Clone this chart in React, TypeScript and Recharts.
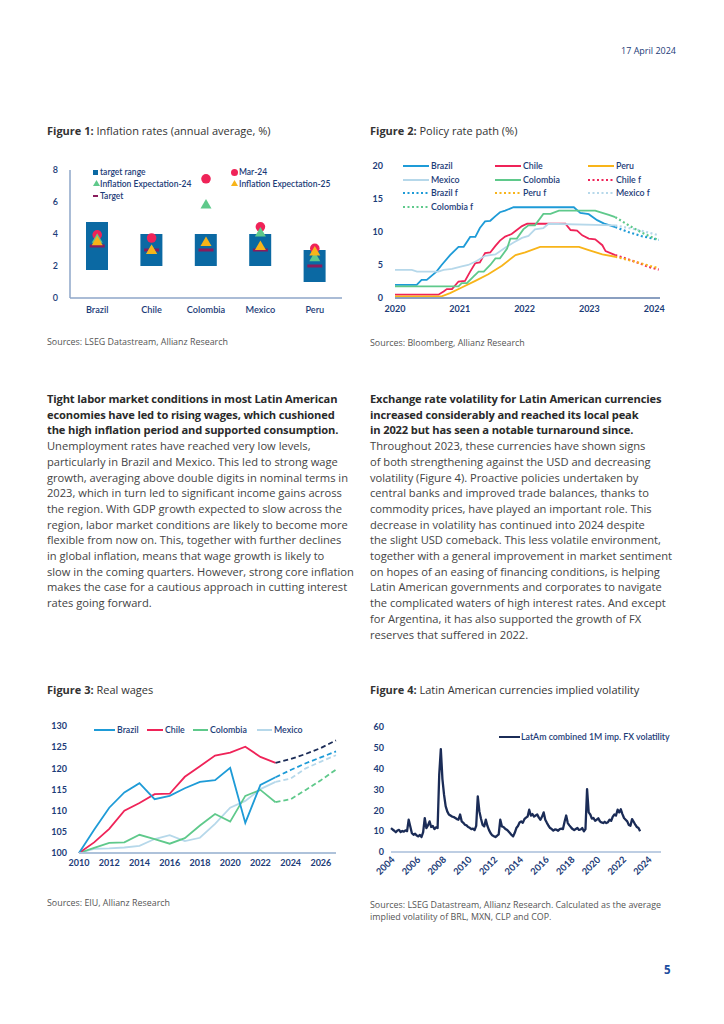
import React from "react"
import { ComposedChart, LineChart, Line, Bar, Scatter, XAxis, YAxis, Legend } from "recharts"

// ---------- shared look ----------
const FONT = "Lato, 'Open Sans', sans-serif"
const TEXT_FONT = "'Open Sans', Lato, sans-serif"
const NAVY = "#1c3c78"
const AXIS = "#8ea6c8"
const BLUE = "#1e9bd7"
const RED = "#ef2358"
const AMBER = "#f8b419"
const LIGHT = "#b6d8ea"
const GREEN = "#5fc98b"
const BAR = "#0b69a3"
const TARGET = "#8a1c5c"
const DARK = "#1b2c57"

// ---------- Figure 1: inflation ----------
const inflCountries = ["Brazil", "Chile", "Colombia", "Mexico", "Peru"]
const targetLow = [1.75, 2, 2, 2, 1]
const targetHigh = [4.75, 4, 4, 4, 3]
const targetMid = [3.25, 3, 3, 3, 2]
const mar24 = [3.95, 3.75, 7.45, 4.45, 3.1]
const expect24 = [3.7, 3.0, 5.85, 4.1, 2.55]
const expect25 = [3.55, 3.0, 3.5, 3.25, 2.9]
const inflTicks = [0, 2, 4, 6, 8]

// ---------- Figure 2: policy rates [t, rate] ----------
const brazilRate: [number, number][] = [
  [2020, 2], [2020.335, 2], [2020.41, 2.75], [2020.49, 2.75], [2020.64, 4], [2020.72, 5],
  [2020.85, 6.5], [2020.98, 7.75], [2021.06, 7.75], [2021.16, 9.25], [2021.24, 9.25],
  [2021.31, 10.6], [2021.39, 11.6], [2021.47, 11.7], [2021.55, 12.4], [2021.62, 13],
  [2021.7, 13.25], [2021.83, 13.75], [2022.76, 13.75], [2022.86, 12.9], [2022.99, 12.7],
  [2023.12, 11.8], [2023.22, 11.3], [2023.4, 10.75],
]
const brazilRateF: [number, number][] = [[2023.4, 10.75], [2023.6, 10.0], [2023.8, 9.4], [2024.07, 8.8]]
const chileRate: [number, number][] = [
  [2020, 0.5], [2020.67, 0.5], [2020.75, 1], [2020.8, 1.35], [2020.88, 1.35], [2020.98, 2.5],
  [2021.08, 2.6], [2021.16, 4], [2021.24, 5.3], [2021.31, 5.4], [2021.39, 6.8], [2021.47, 6.9],
  [2021.55, 7.9], [2021.62, 8.7], [2021.7, 9.3], [2021.8, 9.7], [2021.88, 10.3], [2021.96, 10.9],
  [2022.04, 11.25], [2022.63, 11.25], [2022.71, 10.3], [2022.81, 10.2], [2022.89, 9.5],
  [2022.99, 9.0], [2023.09, 8.9], [2023.2, 8.0], [2023.25, 7.1], [2023.4, 6.5],
]
const chileRateF: [number, number][] = [[2023.4, 6.5], [2023.71, 5.5], [2023.92, 4.7], [2024.07, 4.3]]
const peruRate: [number, number][] = [
  [2020, 0.25], [2020.72, 0.25], [2020.85, 0.75], [2021.03, 1.6], [2021.24, 2.6], [2021.44, 3.6],
  [2021.65, 4.9], [2021.86, 6.5], [2022.01, 6.9], [2022.24, 7.75], [2022.84, 7.75],
  [2022.99, 7.25], [2023.2, 6.6], [2023.4, 6.25],
]
const peruRateF: [number, number][] = [[2023.4, 6.25], [2023.71, 5.5], [2023.92, 4.9], [2024.07, 4.5]]
const mexicoRate: [number, number][] = [
  [2020, 4.25], [2020.26, 4.25], [2020.34, 4], [2020.67, 4], [2020.75, 4.25], [2020.88, 4.4],
  [2021.03, 4.8], [2021.13, 5], [2021.26, 5.6], [2021.39, 6.4], [2021.55, 6.6], [2021.7, 7.6],
  [2021.83, 8.4], [2021.96, 9.1], [2022.06, 9.4], [2022.16, 10.4], [2022.29, 10.6],
  [2022.37, 11.25], [2023.4, 11.0],
]
const mexicoRateF: [number, number][] = [[2023.4, 11.0], [2023.71, 10.4], [2023.92, 9.9], [2024.07, 9.5]]
const colombiaRate: [number, number][] = [
  [2020, 1.75], [2020.98, 1.75], [2021.03, 2.25], [2021.11, 2.25], [2021.21, 3.25], [2021.29, 4],
  [2021.37, 4], [2021.47, 5], [2021.55, 6], [2021.62, 6], [2021.73, 7.5], [2021.78, 9],
  [2021.88, 9], [2021.98, 10.4], [2022.06, 11], [2022.16, 11], [2022.29, 12.75], [2022.4, 12.75],
  [2022.53, 13.25], [2023.09, 13.25], [2023.2, 12.9], [2023.3, 12.6], [2023.4, 12.25],
]
const colombiaRateF: [number, number][] = [[2023.4, 12.25], [2023.61, 11.0], [2023.81, 9.9], [2024.07, 8.75]]
const rateYears = [2020, 2021, 2022, 2023, 2024]
const rateTicks = [0, 5, 10, 15, 20]

// ---------- Figure 3: real wages ----------
const wageYears = [2010, 2011, 2012, 2013, 2014, 2015, 2016, 2017, 2018, 2019, 2020, 2021, 2022, 2023, 2024, 2025, 2026, 2027]
const brazilWage = [100, 105.5, 110.7, 114.3, 116.5, 112.7, 113.5, 115.3, 116.8, 117.2, 120.1, 107.1, 116.1, 117.9]
const chileWage = [100, 102.5, 105.7, 110.0, 111.8, 113.9, 114.0, 118.0, 120.5, 123.0, 123.7, 125.1, 122.7, 121.3]
const colombiaWage = [100, 101.2, 102.4, 102.5, 104.3, 103.3, 102.2, 103.5, 106.5, 109.2, 107.4, 113.5, 114.9, 112.0]
const mexicoWage = [100, 101.0, 101.1, 101.3, 101.7, 103.3, 104.2, 102.8, 103.6, 106.9, 110.7, 112.3, 115.1, 116.8]
// forecasts 2023..2027
const brazilWageF = [117.9, 119.6, 121.2, 122.6, 124.0]
const chileWageF = [121.3, 122.2, 123.4, 124.8, 126.6]
const colombiaWageF = [112.0, 112.7, 114.9, 117.2, 119.7]
const mexicoWageF = [116.8, 117.6, 120.0, 121.6, 123.1]
const wageTicksX = [2010, 2012, 2014, 2016, 2018, 2020, 2022, 2024, 2026]
const wageTicksY = [100, 105, 110, 115, 120, 125, 130]

// ---------- Figure 4: FX implied volatility (every 1/8 year from 2004) ----------
const fxStart = 2004
const fxStep = 0.125
const fxVol = [
  11.5, 10.8, 10.2, 9.5, 10.3, 10.6, 9.6, 10.1, 9.8, 10.4, 10.0, 15.5, 12.2, 9.0, 8.3, 8.8,
  7.9, 7.5, 8.2, 7.2, 9.5, 16.3, 11.5, 12.8, 14.7, 12.0, 12.5, 11.0, 11.8, 11.5, 37.0, 49.4,
  35.0, 27.5, 22.0, 19.5, 18.0, 17.5, 17.0, 16.8, 16.3, 15.8, 15.5, 18.0, 14.7, 14.0, 13.1, 12.8,
  12.0, 11.6, 11.0, 11.2, 10.5, 12.5, 26.7, 19.5, 16.0, 13.0, 12.3, 15.5, 12.5, 10.5, 9.0, 8.0,
  7.6, 7.2, 7.8, 8.5, 15.5, 12.3, 12.0, 11.2, 10.7, 10.0, 9.1, 8.2, 7.5, 9.2, 11.5, 12.5,
  14.2, 14.7, 14.0, 15.8, 16.5, 17.0, 20.3, 17.5, 18.2, 17.0, 17.5, 18.0, 16.5, 15.5, 17.0, 19.0,
  15.5, 14.0, 12.6, 11.5, 11.0, 10.3, 10.8, 10.7, 10.2, 11.0, 11.2, 11.0, 14.5, 17.5, 13.9, 12.8,
  11.8, 11.0, 10.5, 11.0, 11.5, 10.6, 10.8, 11.5, 9.9, 11.0, 30.2, 19.0, 18.0, 16.0, 16.3, 15.0,
  15.5, 16.2, 14.7, 14.2, 13.9, 14.5, 13.9, 14.3, 15.5, 15.0, 17.0, 18.0, 17.5, 20.3, 19.0, 20.5,
  18.2, 16.3, 15.5, 14.7, 13.0, 12.6, 15.8, 14.5, 13.1, 12.0, 11.5, 10.0,
]
const fxTicksX = [2004, 2006, 2008, 2010, 2012, 2014, 2016, 2018, 2020, 2022, 2024]
const fxTicksY = [0, 10, 20, 30, 40, 50, 60]

// ---------- text ----------
const leftText: [string, boolean][] = [
  ["Tight labor market conditions in most Latin American", true],
  ["economies have led to rising wages, which cushioned", true],
  ["the high inflation period and supported consumption.", true],
  ["Unemployment rates have reached very low levels,", false],
  ["particularly in Brazil and Mexico. This led to strong wage", false],
  ["growth, averaging above double digits in nominal terms in", false],
  ["2023, which in turn led to significant income gains across", false],
  ["the region. With GDP growth expected to slow across the", false],
  ["region, labor market conditions are likely to become more", false],
  ["flexible from now on. This, together with further declines", false],
  ["in global inflation, means that wage growth is likely to", false],
  ["slow in the coming quarters. However, strong core inflation", false],
  ["makes the case for a cautious approach in cutting interest", false],
  ["rates going forward.", false],
]
const rightText: [string, boolean][] = [
  ["Exchange rate volatility for Latin American currencies", true],
  ["increased considerably and reached its local peak", true],
  ["in 2022 but has seen a notable turnaround since.", true],
  ["Throughout 2023, these currencies have shown signs", false],
  ["of both strengthening against the USD and decreasing", false],
  ["volatility (Figure 4). Proactive policies undertaken by", false],
  ["central banks and improved trade balances, thanks to", false],
  ["commodity prices, have played an important role. This", false],
  ["decrease in volatility has continued into 2024 despite", false],
  ["the slight USD comeback. This less volatile environment,", false],
  ["together with a general improvement in market sentiment", false],
  ["on hopes of an easing of financing conditions, is helping", false],
  ["Latin American governments and corporates to navigate", false],
  ["the complicated waters of high interest rates. And except", false],
  ["for Argentina, it has also supported the growth of FX", false],
  ["reserves that suffered in 2022.", false],
]

const tickStyle = { fill: NAVY, fontSize: 9, fontFamily: FONT, fontWeight: 700 }

function Title({ x, y, num, text }: { x: number; y: number; num: string; text: string }) {
  return (
    <div style={{ position: "absolute", left: x, top: y, fontSize: 11, lineHeight: "13px", color: "#333", whiteSpace: "nowrap", fontFamily: TEXT_FONT }}>
      <b>Figure {num}:</b> {text}
    </div>
  )
}

function Source({ x, y, lines }: { x: number; y: number; lines: string[] }) {
  return (
    <div style={{ position: "absolute", left: x, top: y, fontSize: 8.9, lineHeight: "11.5px", color: "#555", whiteSpace: "nowrap", fontFamily: TEXT_FONT }}>
      {lines.map((l) => (
        <div key={l}>{l}</div>
      ))}
    </div>
  )
}

function Body({ x, y, lines }: { x: number; y: number; lines: [string, boolean][] }) {
  return (
    <div style={{ position: "absolute", left: x, top: y, fontSize: 11.15, lineHeight: "15.7px", whiteSpace: "nowrap", fontFamily: TEXT_FONT }}>
      {lines.map(([l, b]) => (
        <div key={l} style={{ fontWeight: b ? 700 : 400, color: b ? "#2a2a2a" : "#444", letterSpacing: b ? -0.15 : 0 }}>
          {l}
        </div>
      ))}
    </div>
  )
}

// scatter marks for figure 1
const DotMark = (p: any) => <circle cx={p.cx} cy={p.cy} r={4.8} fill={RED} />
const triMark = (color: string) => (p: any) => (
  <polygon points={`${p.cx},${p.cy - 5.5} ${p.cx + 5.5},${p.cy + 4} ${p.cx - 5.5},${p.cy + 4}`} fill={color} />
)
const DashMark = (p: any) => <rect x={p.cx - 7.5} y={p.cy - 1.5} width={15} height={3} fill={TARGET} />

function InflationLegend() {
  const t = { position: "absolute" as const, fontSize: 8.5, color: NAVY, fontWeight: 600, whiteSpace: "nowrap" as const, lineHeight: "10px" }
  return (
    <div style={{ position: "relative", width: 260, height: 36, fontFamily: FONT }}>
      <div style={{ position: "absolute", left: 0, top: 3, width: 5, height: 5, background: BAR }} />
      <div style={{ ...t, left: 7, top: 0 }}>target range</div>
      <div style={{ position: "absolute", left: 138, top: 2, width: 7, height: 7, borderRadius: 4, background: RED }} />
      <div style={{ ...t, left: 146, top: 0 }}>Mar-24</div>
      <svg style={{ position: "absolute", left: 0, top: 13 }} width={7} height={7}>
        <polygon points="3.5,0 7,6 0,6" fill={GREEN} />
      </svg>
      <div style={{ ...t, left: 7, top: 12 }}>Inflation Expectation-24</div>
      <svg style={{ position: "absolute", left: 138, top: 13 }} width={7} height={7}>
        <polygon points="3.5,0 7,6 0,6" fill={AMBER} />
      </svg>
      <div style={{ ...t, left: 146, top: 12 }}>Inflation Expectation-25</div>
      <div style={{ position: "absolute", left: 0, top: 28, width: 5, height: 2, background: TARGET }} />
      <div style={{ ...t, left: 7, top: 24 }}>Target</div>
    </div>
  )
}

function InflationChart() {
  const data = inflCountries.map((c, i) => ({
    country: c,
    range: [targetLow[i], targetHigh[i]],
    target: targetMid[i],
    mar24: mar24[i],
    exp24: expect24[i],
    exp25: expect25[i],
  }))
  return (
    <ComposedChart width={310} height={180} data={data} margin={{ top: 20, right: 8, bottom: 2, left: 0 }}>
      <XAxis dataKey="country" height={30} axisLine={{ stroke: AXIS, strokeWidth: 1.5 }} tickLine={false} tickSize={0} tickMargin={8}
        tick={{ ...tickStyle, fontWeight: 600, fontSize: 9.2 }} />
      <YAxis domain={[0, 8]} ticks={inflTicks} width={30} axisLine={{ stroke: AXIS, strokeWidth: 1.5 }} tickLine={false}
        tickSize={0} tickMargin={12} tick={{ ...tickStyle, fontWeight: 600 }} />
      <Legend verticalAlign="middle" align="center" layout="horizontal" wrapperStyle={{ left: 53, top: 17, width: 260 }}
        content={() => <InflationLegend />} />
      <Bar dataKey="range" fill={BAR} barSize={22} isAnimationActive={false} />
      <Scatter dataKey="target" shape={DashMark} isAnimationActive={false} />
      <Scatter dataKey="mar24" shape={DotMark} isAnimationActive={false} />
      <Scatter dataKey="exp24" shape={triMark(GREEN)} isAnimationActive={false} />
      <Scatter dataKey="exp25" shape={triMark(AMBER)} isAnimationActive={false} />
    </ComposedChart>
  )
}

// ---------- figure 2 ----------
const toPts = (a: [number, number][]) => a.map(([t, v]) => ({ t, v }))
const rateSeries = [
  { name: "Brazil", pts: brazilRate, color: BLUE, dotted: false },
  { name: "Chile", pts: chileRate, color: RED, dotted: false },
  { name: "Peru", pts: peruRate, color: AMBER, dotted: false },
  { name: "Mexico", pts: mexicoRate, color: LIGHT, dotted: false },
  { name: "Colombia", pts: colombiaRate, color: GREEN, dotted: false },
  { name: "Chile f", pts: chileRateF, color: RED, dotted: true },
  { name: "Brazil f", pts: brazilRateF, color: BLUE, dotted: true },
  { name: "Peru f", pts: peruRateF, color: AMBER, dotted: true },
  { name: "Mexico f", pts: mexicoRateF, color: LIGHT, dotted: true },
  { name: "Colombia f", pts: colombiaRateF, color: GREEN, dotted: true },
]

function RateLegend() {
  const cols = [0, 92, 185]
  return (
    <div style={{ position: "relative", width: 270, height: 52, fontFamily: FONT }}>
      {rateSeries.map((s, i) => {
        const x = cols[i % 3]
        const y = Math.floor(i / 3) * 13.5
        return (
          <div key={s.name} style={{ position: "absolute", left: x, top: y, height: 10, whiteSpace: "nowrap" }}>
            <svg width={28} height={10} style={{ position: "absolute", left: 0, top: 0 }}>
              <line x1={1} y1={5} x2={27} y2={5} stroke={s.color} strokeWidth={2}
                strokeDasharray={s.dotted ? "2 2.5" : undefined} />
            </svg>
            <span style={{ position: "absolute", left: 29, top: 0, fontSize: 8.8, lineHeight: "10px", color: NAVY, fontWeight: 600 }}>
              {s.name}
            </span>
          </div>
        )
      })}
    </div>
  )
}

function RateChart() {
  return (
    <LineChart width={310} height={180} margin={{ top: 20, right: 12, bottom: 0, left: 0 }}>
      <XAxis dataKey="t" type="number" height={28} domain={[2020, 2024.09]} ticks={rateYears} allowDataOverflow
        axisLine={{ stroke: "#8a9fc0", strokeWidth: 2 }} tickLine={false} tickSize={0} tickMargin={8} tick={tickStyle} />
      <YAxis domain={[0, 20]} ticks={rateTicks} width={33} axisLine={false} tickLine={false} tickSize={0} tickMargin={12} tick={tickStyle} />
      <Legend verticalAlign="middle" align="center" layout="horizontal" wrapperStyle={{ left: 40, top: 15, width: 270 }}
        content={() => <RateLegend />} />
      {rateSeries.map((s) => (
        <Line key={s.name} data={toPts(s.pts)} dataKey="v" name={s.name} type="linear" stroke={s.color}
          strokeWidth={s.dotted ? 2.2 : 1.8} strokeDasharray={s.dotted ? "2 2.5" : undefined}
          dot={false} isAnimationActive={false} />
      ))}
    </LineChart>
  )
}

// ---------- figure 3 ----------
function WageLegend() {
  const items = [
    { name: "Brazil", color: BLUE, x: 0, w: 21 },
    { name: "Chile", color: RED, x: 53, w: 16 },
    { name: "Colombia", color: GREEN, x: 99, w: 15 },
    { name: "Mexico", color: LIGHT, x: 163, w: 15 },
  ]
  return (
    <div style={{ position: "relative", width: 220, height: 10, fontFamily: FONT }}>
      {items.map((it) => (
        <div key={it.name} style={{ position: "absolute", left: it.x, top: 0, whiteSpace: "nowrap" }}>
          <div style={{ position: "absolute", left: 0, top: 4, width: it.w, height: 2, background: it.color }} />
          <span style={{ position: "absolute", left: it.w + 2, top: 0, fontSize: 8.8, lineHeight: "10px", color: NAVY, fontWeight: 600 }}>
            {it.name}
          </span>
        </div>
      ))}
    </div>
  )
}

function WageChart() {
  const data = wageYears.map((y, i) => ({
    year: y,
    brazil: brazilWage[i] ?? null,
    chile: chileWage[i] ?? null,
    colombia: colombiaWage[i] ?? null,
    mexico: mexicoWage[i] ?? null,
    brazilF: i >= 13 ? brazilWageF[i - 13] : null,
    chileF: i >= 13 ? chileWageF[i - 13] : null,
    colombiaF: i >= 13 ? colombiaWageF[i - 13] : null,
    mexicoF: i >= 13 ? mexicoWageF[i - 13] : null,
  }))
  const solid = [
    { key: "mexico", color: LIGHT },
    { key: "colombia", color: GREEN },
    { key: "chile", color: RED },
    { key: "brazil", color: BLUE },
  ]
  const dashed = [
    { key: "mexicoF", color: LIGHT },
    { key: "colombiaF", color: GREEN },
    { key: "brazilF", color: BLUE },
    { key: "chileF", color: DARK },
  ]
  return (
    <LineChart width={300} height={175} data={data} margin={{ top: 20, right: 4, bottom: 0, left: 0 }}>
      <XAxis dataKey="year" type="number" height={28} domain={[2010, 2027]} ticks={wageTicksX}
        axisLine={{ stroke: "#aec2da", strokeWidth: 2 }} tickLine={false} tickSize={0} tickMargin={7} tick={tickStyle} />
      <YAxis domain={[100, 130]} ticks={wageTicksY} width={39} axisLine={false} tickLine={false} tickSize={0} tickMargin={12} tick={tickStyle} />
      <Legend verticalAlign="middle" align="center" layout="horizontal" wrapperStyle={{ left: 54, top: 19, width: 220 }}
        content={() => <WageLegend />} />
      {solid.map((s) => (
        <Line key={s.key} dataKey={s.key} stroke={s.color} strokeWidth={1.8} dot={false} type="linear" isAnimationActive={false} />
      ))}
      {dashed.map((s) => (
        <Line key={s.key} dataKey={s.key} stroke={s.color} strokeWidth={1.8} strokeDasharray="5 3" dot={false}
          type="linear" isAnimationActive={false} />
      ))}
    </LineChart>
  )
}

// ---------- figure 4 ----------
const RotTick = (p: any) => {
  const x = p.x + 2
  const y = p.y + 1
  return (
    <text x={x} y={y} transform={`rotate(-45, ${x}, ${y})`} textAnchor="end" dy="0.35em"
      fill={NAVY} fontSize={9.3} fontWeight={700} fontFamily={FONT}>
      {p.payload.value}
    </text>
  )
}

function FxLegend() {
  return (
    <div style={{ position: "relative", width: 175, height: 10, fontFamily: FONT, whiteSpace: "nowrap" }}>
      <div style={{ position: "absolute", left: 0, top: 4, width: 21, height: 2.2, background: DARK }} />
      <span style={{ position: "absolute", left: 22, top: 0, fontSize: 8.8, lineHeight: "10px", color: NAVY, fontWeight: 600 }}>
        LatAm combined 1M imp. FX volatility
      </span>
    </div>
  )
}

function FxChart() {
  const data = fxVol.map((v, i) => ({ t: fxStart + i * fxStep, vol: v }))
  return (
    <LineChart width={305} height={190} data={data} margin={{ top: 20, right: 6, bottom: 0, left: 0 }}>
      <XAxis dataKey="t" type="number" height={45} domain={[2004, 2025]} ticks={fxTicksX} axisLine={{ stroke: "#7f9ec8", strokeWidth: 1.2 }}
        tickLine={false} tickSize={0} tickMargin={5} tick={<RotTick />} interval={0} />
      <YAxis domain={[0, 60]} ticks={fxTicksY} width={29} axisLine={false} tickLine={false} tickSize={0} tickMargin={7} tick={tickStyle} />
      <Legend verticalAlign="middle" align="center" layout="horizontal" wrapperStyle={{ left: 137, top: 25, width: 175 }}
        content={() => <FxLegend />} />
      <Line dataKey="vol" stroke={DARK} strokeWidth={2.3} strokeLinejoin="round" dot={false} type="linear" isAnimationActive={false} />
    </LineChart>
  )
}

export default function App() {
  const place = (left: number, top: number) => ({ position: "absolute" as const, left, top })
  return (
    <div style={{ position: "absolute", left: 0, top: 0, width: 724, height: 1024, background: "#fff", fontFamily: FONT, overflow: "hidden" }}>
      <div style={{ position: "absolute", right: 48, top: 45, fontSize: 9, lineHeight: "11px", color: NAVY, fontFamily: TEXT_FONT }}>17 April 2024</div>

      <Title x={47} y={124} num="1" text="Inflation rates (annual average, %)" />
      <div style={place(40, 150)}>
        <InflationChart />
      </div>
      <Source x={47} y={336} lines={["Sources: LSEG Datastream, Allianz Research"]} />

      <Title x={370} y={124} num="2" text="Policy rate path (%)" />
      <div style={place(362, 146)}>
        <RateChart />
      </div>
      <Source x={370} y={337} lines={["Sources: Bloomberg, Allianz Research"]} />

      <Body x={47} y={391} lines={leftText} />
      <Body x={370} y={391} lines={rightText} />

      <Title x={47} y={683} num="3" text="Real wages" />
      <div style={place(40, 706)}>
        <WageChart />
      </div>
      <Source x={47} y={897} lines={["Sources: EIU, Allianz Research"]} />

      <Title x={370} y={683} num="4" text="Latin American currencies implied volatility" />
      <div style={place(362, 707)}>
        <FxChart />
      </div>
      <Source x={370} y={899} lines={["Sources: LSEG Datastream, Allianz Research. Calculated as the average", "implied volatility of BRL, MXN, CLP and COP."]} />

      <div style={{ position: "absolute", left: 664, top: 963, fontSize: 11.5, lineHeight: "14px", fontWeight: 700, color: "#1e4ea0", fontFamily: TEXT_FONT }}>5</div>
    </div>
  )
}
